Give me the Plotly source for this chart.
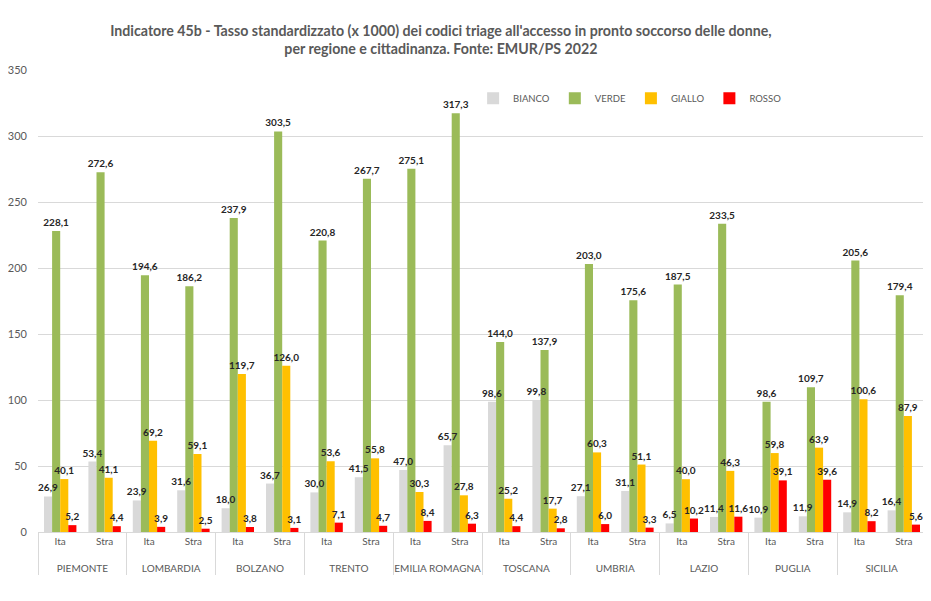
import plotly.graph_objects as go

regions = ["PIEMONTE", "LOMBARDIA", "BOLZANO", "TRENTO", "EMILIA ROMAGNA",
           "TOSCANA", "UMBRIA", "LAZIO", "PUGLIA", "SICILIA"]
groups = ["Ita", "Stra"]

# values in order: region1 Ita, region1 Stra, region2 Ita, ...
bianco = [26.9, 53.4, 23.9, 31.6, 18.0, 36.7, 30.0, 41.5, 47.0, 65.7,
          98.6, 99.8, 27.1, 31.1, 6.5, 11.4, 10.9, 11.9, 14.9, 16.4]
verde = [228.1, 272.6, 194.6, 186.2, 237.9, 303.5, 220.8, 267.7, 275.1, 317.3,
         144.0, 137.9, 203.0, 175.6, 187.5, 233.5, 98.6, 109.7, 205.6, 179.4]
giallo = [40.1, 41.1, 69.2, 59.1, 119.7, 126.0, 53.6, 55.8, 30.3, 27.8,
          25.2, 17.7, 60.3, 51.1, 40.0, 46.3, 59.8, 63.9, 100.6, 87.9]
rosso = [5.2, 4.4, 3.9, 2.5, 3.8, 3.1, 7.1, 4.7, 8.4, 6.3,
         4.4, 2.8, 6.0, 3.3, 10.2, 11.6, 39.1, 39.6, 8.2, 5.6]

series = [
    ("BIANCO", bianco, "#D9D9D9"),
    ("VERDE", verde, "#9BBB59"),
    ("GIALLO", giallo, "#FFC000"),
    ("ROSSO", rosso, "#FF0000"),
]

# leading line break pushes the region row a bit lower, as in the original
x_outer = ["<br>" + r for r in regions for _ in groups]
x_inner = [g for _ in regions for g in groups]

fig = go.Figure()
# visible bars
for name, vals, col in series:
    fig.add_trace(go.Bar(
        name=name,
        x=[x_outer, x_inner],
        y=vals,
        offsetgroup=name,
        marker=dict(color=col, line=dict(width=0)),
    ))

# transparent copies carrying the value labels, so labels sit above all bars
for name, vals, col in series:
    fig.add_trace(go.Bar(
        name=name,
        x=[x_outer, x_inner],
        y=vals,
        offsetgroup=name,
        showlegend=False,
        hoverinfo="skip",
        marker=dict(color="rgba(0,0,0,0)", line=dict(width=0)),
        text=[f"{v:.1f}".replace(".", ",") for v in vals],
        textposition="outside",
        constraintext="none",
        cliponaxis=False,
        textfont=dict(family="Lato", size=10, color="#262626", weight="bold"),
    ))

fig.update_layout(
    width=931,
    height=601,
    template=None,
    paper_bgcolor="white",
    plot_bgcolor="white",
    barmode="group",
    bargap=0.27,
    bargroupgap=0,
    font=dict(family="Lato", color="#595959"),
    title=dict(
        text="Indicatore 45b - Tasso standardizzato (x 1000) dei codici triage all'accesso in pronto soccorso delle donne,<br>per regione e cittadinanza. Fonte: EMUR/PS 2022",
        x=0.465, xanchor="center",
        y=0.954, yanchor="top",
        font=dict(family="Lato", size=14.2, color="#595959", weight="bold"),
    ),
    legend=dict(
        orientation="h",
        x=0.49, xanchor="left",
        y=0.939, yanchor="middle",
        font=dict(size=9.5, color="#595959"),
        itemwidth=30,
        bgcolor="rgba(0,0,0,0)",
    ),
    margin=dict(l=30, r=13, t=62, b=77),
    showlegend=True,
)

fig.update_yaxes(
    range=[0, 350],
    dtick=50,
    automargin=False,
    showgrid=True,
    gridcolor="#D9D9D9",
    zeroline=False,
    showline=False,
    tickfont=dict(size=11, color="#595959"),
    ticks="",
    ticklabelstandoff=10,
)

fig.update_xaxes(
    type="multicategory",
    automargin=False,
    showline=True,
    linecolor="#D9D9D9",
    showdividers=True,
    dividercolor="#D9D9D9",
    dividerwidth=1,
    tickfont=dict(size=10, color="#595959"),
    ticks="outside",
    ticklen=6,
    tickcolor="rgba(0,0,0,0)",
)

fig.write_html("out.html")
